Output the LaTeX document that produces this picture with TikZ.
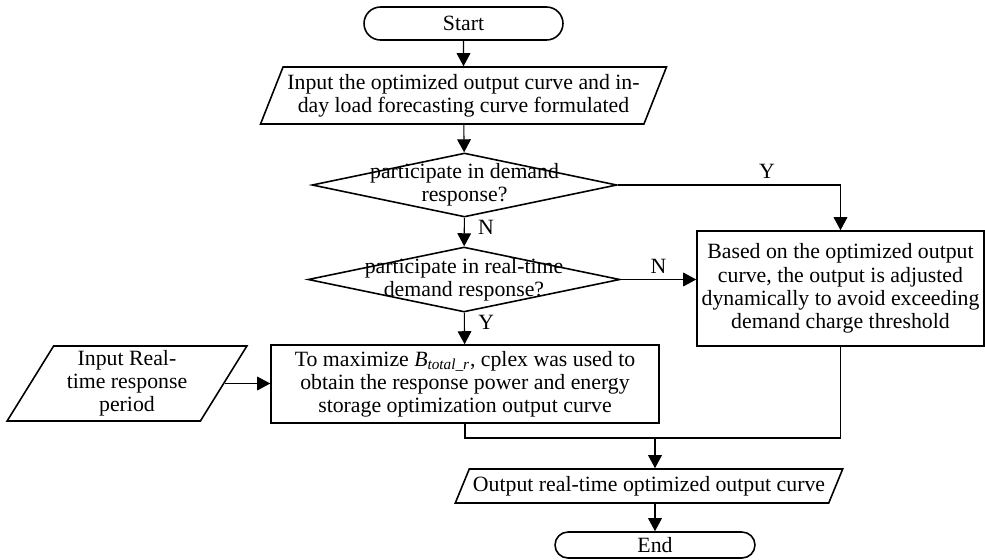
\documentclass[tikz,border=0pt]{standalone}
\usepackage{fontspec}
\setmainfont{Liberation Serif}
\usepackage{tikz}
\usetikzlibrary{positioning,arrows.meta,shapes.geometric,shapes.misc}

\begin{document}
\begin{tikzpicture}[
  x=0.02cm, y=-0.02cm,
  every node/.style={font=\fontsize{12.4}{13.2}\selectfont},
  term/.style={rounded rectangle, draw, line width=0.9pt, inner sep=0pt},
  io/.style={trapezium, draw, line width=0.9pt, align=center, inner xsep=0pt,
             inner ysep=1pt, trapezium stretches=true},
  decide/.style={diamond, draw, line width=0.9pt, inner sep=0pt},
  proc/.style={rectangle, draw, line width=0.9pt, align=center, inner sep=2pt},
  flow/.style={-{Triangle[length=7.4pt, width=7.8pt]}, line width=0.6pt},
  link/.style={line width=0.6pt}
]
\useasboundingbox (0,0) rectangle (985,559);

% main spine
\node[term, minimum width=3.98cm, minimum height=0.66cm] (start) at (463.5,23.5) {Start};
\node[io, trapezium left angle=64.7, trapezium right angle=115.3,
      minimum width=8.14cm, minimum height=1.14cm] (inp) at (463.5,95.5)
  {Input the optimized output curve and in-\\day load forecasting curve formulated};
\node[decide, minimum width=6.1cm, minimum height=1.28cm,
      label={[align=center]center:participate in demand\\response?}] (dr) at (464.5,185) {};
\node[decide, minimum width=6.24cm, minimum height=1.3cm,
      label={[align=center]center:participate in real-time\\demand response?}] (rtdr) at (464,279.5) {};
\node[proc, minimum width=7.76cm, minimum height=1.56cm] (opt) at (465,384)
  {To maximize \textit{B}\textsubscript{\textit{total\_r}}, cplex was used to\\obtain the response power and energy\\storage optimization output curve};

% side boxes
\node[proc, minimum width=5.74cm, minimum height=2.3cm] (adj) at (840.5,288.5)
  {Based on the optimized output\\curve, the output is adjusted\\dynamically to avoid exceeding\\demand charge threshold};
\node[io, trapezium left angle=61.3, trapezium right angle=118.7,
      minimum width=4.8cm, minimum height=1.5cm] (period) at (127,383.5)
  {Input Real-\\time response\\period};

% output and end
\node[io, trapezium left angle=59.5, trapezium right angle=120.5,
      minimum width=7.76cm, minimum height=0.68cm] (outp) at (649,486)
  {Output real-time optimized output curve};
\node[term, minimum width=4cm, minimum height=0.52cm] (stop) at (655,545) {End};
\coordinate (join) at (655,438);

\draw[flow] (start) -- (inp);
\draw[flow] (inp) -- (dr);
\draw[flow] (dr) -- node[pos=0.35, right=0.15cm] {N} (rtdr);
\draw[flow] (rtdr) -- node[pos=0.3, right=0.15cm] {Y} (opt);
\draw[flow] (dr.east) -| node[pos=0.335, above] {Y} (adj.north);
\draw[flow] (rtdr.east) -- node[above] {N} (rtdr.east -| adj.west);
\draw[flow] (period.east) -- (period.east -| opt.west);

% merge into the output
\draw[link] (opt.south) |- (join);
\draw[link] (adj.south) |- (join);
\draw[flow] (join) -- (join |- outp.north);
\draw[flow] (outp.south -| stop.north) -- (stop.north);
\end{tikzpicture}
\end{document}
